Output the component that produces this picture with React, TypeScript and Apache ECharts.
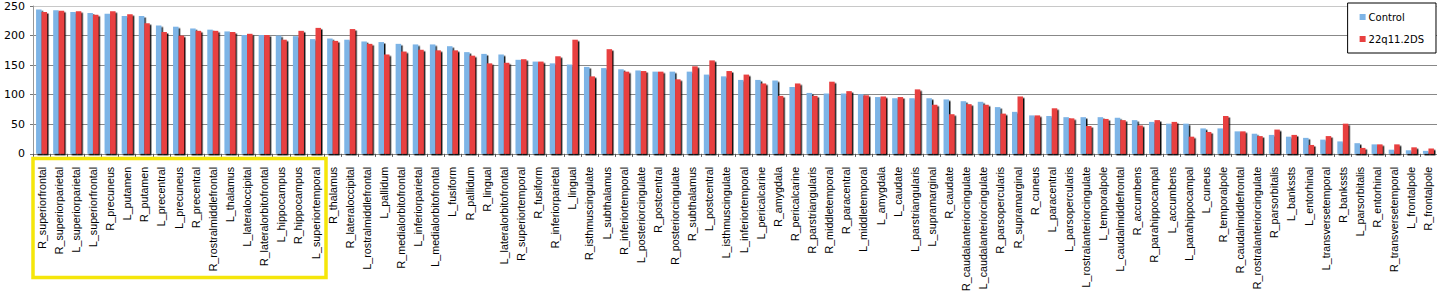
import React, { useEffect, useRef } from "react";
import * as echarts from "echarts";

const categories = [
  "R_superiorfrontal", "R_superiorparietal", "L_superiorparietal", "L_superiorfrontal", "R_precuneus",
  "L_putamen", "R_putamen", "L_precentral", "L_precuneus", "R_precentral",
  "R_rostralmiddlefrontal", "L_thalamus", "L_lateraloccipital", "R_lateralorbitofrontal", "L_hippocampus",
  "R_hippocampus", "L_superiortemporal", "R_thalamus", "R_lateraloccipital", "L_rostralmiddlefrontal",
  "L_pallidum", "R_medialorbitofrontal", "L_inferiorparietal", "L_medialorbitofrontal", "L_fusiform",
  "R_pallidum", "R_lingual", "L_lateralorbitofrontal", "R_superiortemporal", "R_fusiform",
  "R_inferiorparietal", "L_lingual", "R_isthmuscingulate", "L_subthalamus", "R_inferiortemporal",
  "L_posteriorcingulate", "R_postcentral", "R_posteriorcingulate", "R_subthalamus", "L_postcentral",
  "L_isthmuscingulate", "L_inferiortemporal", "L_pericalcarine", "R_amygdala", "R_pericalcarine",
  "R_parstriangularis", "R_middletemporal", "R_paracentral", "L_middletemporal", "L_amygdala",
  "L_caudate", "L_parstriangularis", "L_supramarginal", "R_caudate", "R_caudalanteriorcingulate",
  "L_caudalanteriorcingulate", "R_parsopercularis", "R_supramarginal", "R_cuneus", "L_paracentral",
  "L_parsopercularis", "L_rostralanteriorcingulate", "L_temporalpole", "L_caudalmiddlefrontal", "R_accumbens",
  "R_parahippocampal", "L_accumbens", "L_parahippocampal", "L_cuneus", "R_temporalpole",
  "R_caudalmiddlefrontal", "R_rostralanteriorcingulate", "R_parsorbitalis", "L_bankssts", "L_entorhinal",
  "L_transversetemporal", "R_bankssts", "L_parsorbitalis", "R_entorhinal", "R_transversetemporal",
  "L_frontalpole", "R_frontalpole",
];

const controlValues = [
  244, 243, 240, 238, 237, 233, 233, 217, 215, 212,
  210, 207, 201, 201, 200, 199, 194, 195, 193, 190,
  189, 186, 185, 185, 182, 172, 169, 168, 159, 156,
  153, 151, 147, 145, 143, 141, 139, 139, 139, 134,
  131, 125, 125, 124, 113, 103, 102, 102, 101, 96,
  94, 94, 94, 92, 89, 88, 79, 71, 65, 64,
  62, 62, 62, 61, 57, 54, 51, 51, 43, 43,
  38, 34, 32, 29, 27, 24, 21, 18, 16, 7,
  6, 5,
];

const dsValues = [
  240, 242, 241, 235, 241, 236, 221, 206, 200, 208,
  208, 206, 203, 201, 193, 208, 213, 191, 211, 186,
  168, 173, 176, 175, 175, 166, 153, 154, 160, 156,
  165, 193, 131, 177, 139, 140, 139, 126, 148, 158,
  140, 134, 119, 98, 119, 98, 122, 106, 99, 97,
  96, 109, 83, 67, 84, 83, 68, 97, 65, 77,
  60, 47, 59, 57, 48, 57, 54, 29, 37, 64,
  38, 30, 41, 32, 15, 30, 51, 10, 16, 16,
  11, 9,
];

const yTicks = [0, 50, 100, 150, 200, 250];

export default function App() {
  const ref = useRef<HTMLDivElement>(null);

  useEffect(() => {
    document.body.style.margin = "0";
    if (!ref.current) return;
    const chart = echarts.init(ref.current, undefined, { renderer: "svg" });
    const shadow = {
      shadowColor: "rgba(0,0,0,0.95)",
      shadowBlur: 1,
      shadowOffsetX: 1.5,
      shadowOffsetY: 1.5,
    };
    chart.setOption({
      animation: false,
      backgroundColor: "#ffffff",
      grid: { left: 33, right: 0, top: 6, bottom: 137, containLabel: false },
      legend: {
        orient: "vertical",
        right: 1,
        top: 3,
        width: 86,
        padding: [9, 12, 9, 12],
        itemGap: 12,
        itemWidth: 6,
        itemHeight: 6,
        icon: "rect",
        borderColor: "#000",
        borderWidth: 1,
        backgroundColor: "#fff",
        textStyle: { fontFamily: "DejaVu Sans", fontSize: 10, color: "#000", padding: [0, 0, 0, -2] },
        data: ["Control", "22q11.2DS"],
      },
      xAxis: {
        type: "category",
        data: categories,
        axisLine: { lineStyle: { color: "#888", width: 1 } },
        axisTick: { show: true, length: 3, alignWithLabel: false, lineStyle: { color: "#555" } },
        axisLabel: {
          interval: 0,
          rotate: 90,
          margin: 13,
          fontFamily: "Liberation Sans",
          fontSize: 10.7,
          color: "#000",
        },
      },
      yAxis: {
        type: "value",
        min: yTicks[0],
        max: yTicks[yTicks.length - 1],
        interval: 50,
        axisLine: { show: true, lineStyle: { color: "#999" } },
        axisTick: { show: true, length: 3, lineStyle: { color: "#777" } },
        axisLabel: { fontFamily: "DejaVu Sans", fontSize: 11, color: "#000", margin: 8 },
        splitLine: {
          lineStyle: { color: ["#888", "#888", "#888", "#888", "#888", "#c8c8c8"], width: 1 },
        },
      },
      series: [
        {
          name: "Control",
          type: "bar",
          data: controlValues,
          barWidth: 5.5,
          barGap: "0%",
          itemStyle: { color: "#7db4e6", ...shadow },
        },
        {
          name: "22q11.2DS",
          type: "bar",
          data: dsValues,
          barWidth: 5.5,
          barGap: "0%",
          itemStyle: { color: "#e84040", ...shadow },
        },
      ],
      graphic: [
        {
          type: "rect",
          shape: { x: 33, y: 158.5, width: 293, height: 119 },
          style: { fill: "none", stroke: "#f5e60a", lineWidth: 3.5 },
          z: 100,
        },
      ],
    });
    return () => chart.dispose();
  }, []);

  return <div ref={ref} style={{ width: 1437, height: 294 }} />;
}
